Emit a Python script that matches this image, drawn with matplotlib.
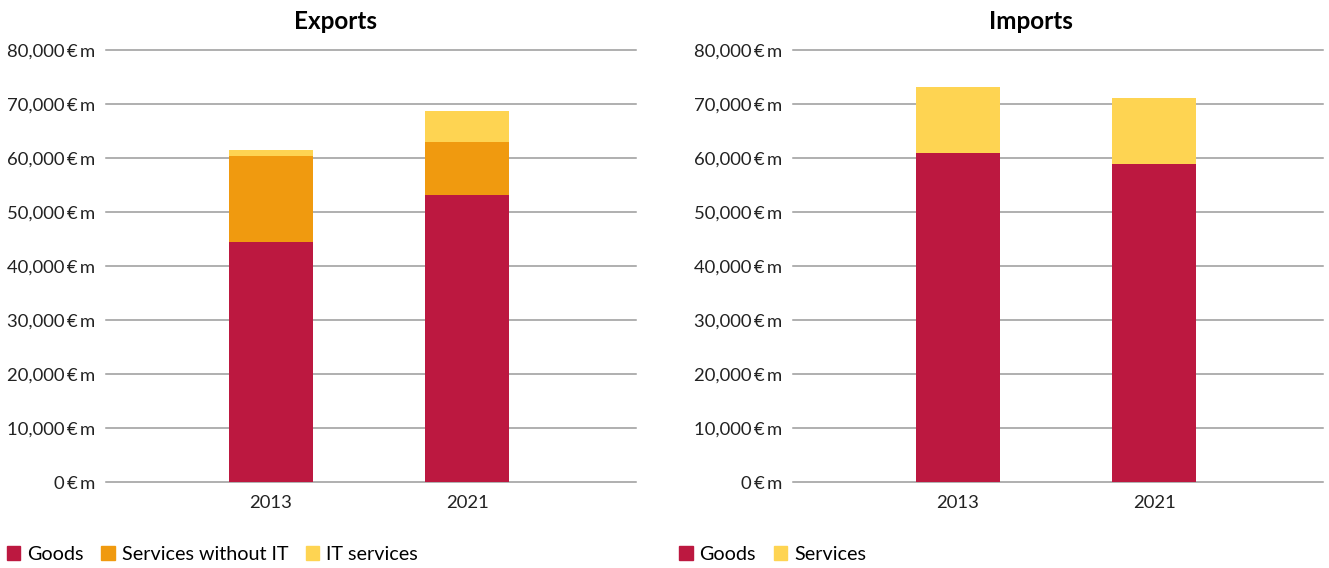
import matplotlib.pyplot as plt
from matplotlib.patches import Patch
from matplotlib.ticker import FuncFormatter

plt.rcParams['font.family'] = ['Lato', 'DejaVu Sans']

# Datos (millones de euros)
years = ['2013', '2021']
exp_goods = [44400, 53100]
exp_services = [16000, 9900]
exp_it = [1100, 5700]
imp_goods = [60900, 58900]
imp_services = [12200, 12200]

c_goods = '#BC1840'
c_serv = '#F09A0F'
c_it = '#FED452'


def fmt(v, pos):
    if v == 0:
        return '0\u2009€\u2009m'
    return '{:,.0f}\u2009€\u2009m'.format(v)


def style_axis(ax, title, tx):
    ax.set_xlim(-0.84, 1.86)
    ax.set_ylim(0, 80000)
    ax.set_yticks(range(0, 80001, 10000))
    ax.yaxis.set_major_formatter(FuncFormatter(fmt))
    ax.grid(axis='y', color='#9a9a9a', linewidth=1.1, clip_on=False)
    ax.set_axisbelow(True)
    for s in ax.spines.values():
        s.set_visible(False)
    ax.tick_params(axis='both', length=0, labelsize=13.3, colors='#222222')
    ax.tick_params(axis='y', pad=8)
    ax.tick_params(axis='x', pad=9)
    ax.set_title(title, fontsize=17.5, fontweight='bold', pad=15, x=tx)


fig = plt.figure(figsize=(13.29, 5.68), dpi=100)
ax1 = fig.add_axes([0.0798, 0.1514, 0.3988, 0.7606])
ax2 = fig.add_axes([0.5967, 0.1514, 0.3988, 0.7606])

x = range(len(years))
w = 0.43

# Exportaciones
ax1.bar(x, exp_goods, w, color=c_goods)
ax1.bar(x, exp_services, w, bottom=exp_goods, color=c_serv)
b3 = [g + s for g, s in zip(exp_goods, exp_services)]
ax1.bar(x, exp_it, w, bottom=b3, color=c_it)
ax1.set_xticks(list(x))
ax1.set_xticklabels(years)
style_axis(ax1, 'Exports', 0.432)

# Importaciones
ax2.bar(x, imp_goods, w, color=c_goods)
ax2.bar(x, imp_services, w, bottom=imp_goods, color=c_it)
ax2.set_xticks(list(x))
ax2.set_xticklabels(years)
style_axis(ax2, 'Imports', 0.449)

# Leyendas
h1 = [Patch(color=c_goods, label='Goods'),
      Patch(color=c_serv, label='Services without IT'),
      Patch(color=c_it, label='IT services')]
h2 = [Patch(color=c_goods, label='Goods'),
      Patch(color=c_it, label='Services')]
kw = dict(loc='center left', ncol=3, frameon=False, fontsize=14.2,
          handlelength=0.68, handleheight=0.68, handletextpad=0.35,
          columnspacing=0.9, borderaxespad=0, borderpad=0)
fig.legend(handles=h1, bbox_to_anchor=(0.005, 0.024), **kw)
fig.legend(handles=h2, bbox_to_anchor=(0.511, 0.024), **kw)

fig.savefig('out.png', dpi=100)
